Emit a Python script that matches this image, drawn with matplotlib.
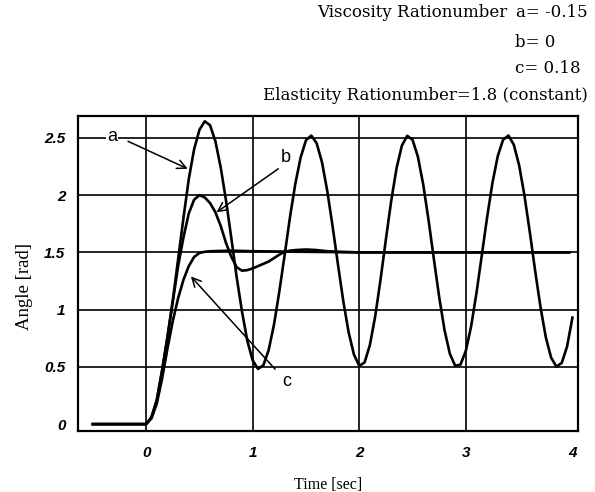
import numpy as np
import matplotlib.pyplot as plt

plt.rcParams['font.family'] = 'Liberation Serif'

# ---- data
# curve a (viscosity ratio -0.15)
t_a = [-0.5, 0.0, 0.05, 0.10, 0.15, 0.20, 0.25, 0.30, 0.35, 0.40, 0.45,
       0.50, 0.55, 0.60, 0.65, 0.70, 0.75, 0.80, 0.85, 0.90, 0.95,
       1.00, 1.05, 1.10, 1.15, 1.20, 1.25, 1.30, 1.35, 1.40, 1.45,
       1.50, 1.55, 1.60, 1.65, 1.70, 1.75, 1.80, 1.85, 1.90, 1.95,
       2.00, 2.05, 2.10, 2.15, 2.20, 2.25, 2.30, 2.35, 2.40, 2.45,
       2.50, 2.55, 2.60, 2.65, 2.70, 2.75, 2.80, 2.85, 2.90, 2.95,
       3.00, 3.05, 3.10, 3.15, 3.20, 3.25, 3.30, 3.35, 3.40, 3.45,
       3.50, 3.55, 3.60, 3.65, 3.70, 3.75, 3.80, 3.85, 3.90, 3.95, 4.00]
y_a = [0.0, 0.0, 0.06, 0.21, 0.47, 0.76, 1.08, 1.44, 1.80, 2.14, 2.40,
       2.57, 2.645, 2.61, 2.47, 2.24, 1.95, 1.62, 1.28, 0.98, 0.725,
       0.556, 0.482, 0.514, 0.648, 0.871, 1.16, 1.48, 1.81, 2.10, 2.33,
       2.48, 2.52, 2.453, 2.287, 2.034, 1.725, 1.393, 1.074, 0.802, 0.607,
       0.509, 0.539, 0.693, 0.945, 1.266, 1.616, 1.952, 2.236, 2.433, 2.518,
       2.483, 2.335, 2.093, 1.782, 1.441, 1.108, 0.821, 0.614, 0.509, 0.52,
       0.641, 0.857, 1.147, 1.477, 1.809, 2.11, 2.343, 2.485, 2.52, 2.44,
       2.26, 1.996, 1.678, 1.341, 1.025, 0.76, 0.581, 0.502, 0.535, 0.678, 0.93]

# curve b (viscosity ratio 0)
t_b = [-0.5, 0.0, 0.05, 0.10, 0.15, 0.20, 0.25, 0.30, 0.35, 0.40, 0.45,
       0.50, 0.55, 0.60, 0.65, 0.70, 0.75, 0.80, 0.85, 0.90, 0.95,
       1.00, 1.05, 1.10, 1.15, 1.20, 1.25, 1.30, 1.35, 1.40, 1.50,
       1.60, 1.70, 1.80, 2.00, 3.00, 3.97]
y_b = [0.0, 0.0, 0.06, 0.21, 0.47, 0.76, 1.07, 1.38, 1.63, 1.84, 1.96,
       2.0, 1.98, 1.93, 1.85, 1.73, 1.58, 1.46, 1.37, 1.34, 1.345,
       1.36, 1.38, 1.40, 1.42, 1.45, 1.48, 1.505, 1.515, 1.52, 1.525,
       1.52, 1.51, 1.505, 1.50, 1.50, 1.50]

# curve c (viscosity ratio 0.18)
t_c = [-0.5, 0.0, 0.05, 0.10, 0.15, 0.20, 0.25, 0.30, 0.35, 0.40, 0.45,
       0.50, 0.55, 0.60, 0.80, 1.00, 2.00, 3.00, 3.97]
y_c = [0.0, 0.0, 0.05, 0.18, 0.40, 0.66, 0.90, 1.10, 1.26, 1.38, 1.46,
       1.495, 1.505, 1.51, 1.515, 1.51, 1.50, 1.50, 1.50]

x_ticks = [0, 1, 2, 3, 4]
y_ticks = [0, 0.5, 1, 1.5, 2, 2.5]
y_ticklabels = ['0', '0.5', '1', '1.5', '2', '2.5']

# label text position, arrow tail, arrow tip (data coords)
labels = ['a', 'b', 'c']
label_xy = [(-0.32, 2.51), (1.31, 2.33), (1.32, 0.37)]
tail_xy = [(-0.17, 2.47), (1.24, 2.23), (1.21, 0.48)]
tip_xy = [(0.39, 2.23), (0.66, 1.85), (0.42, 1.29)]

fig = plt.figure(figsize=(5.95, 4.92), dpi=100)
ax = fig.add_axes([0.131, 0.124, 0.84, 0.64])

# grid
for yv in y_ticks[1:]:
    ax.axhline(yv, color='k', lw=1.2, zorder=1)
for xv in x_ticks[:-1]:
    ax.axvline(xv, color='k', lw=1.2, zorder=1)

ax.plot(t_a, y_a, 'k', lw=1.9, zorder=3)
ax.plot(t_b, y_b, 'k', lw=1.9, zorder=3)
ax.plot(t_c, y_c, 'k', lw=1.9, zorder=3)

for lab, lxy, txy, pxy in zip(labels, label_xy, tail_xy, tip_xy):
    ax.text(lxy[0], lxy[1], lab, family='Liberation Sans', fontsize=13,
            ha='center', va='center', zorder=4,
            bbox=dict(facecolor='white', edgecolor='none', pad=0.5))
    ax.annotate('', xy=pxy, xytext=txy, zorder=4,
                arrowprops=dict(arrowstyle='->', color='k', lw=1.1,
                                mutation_scale=16, shrinkA=0, shrinkB=0))

ax.set_xlim(-0.64, 4.05)
ax.set_ylim(-0.06, 2.69)
ax.set_xticks(x_ticks)
ax.set_xticklabels([str(v) for v in x_ticks], family='Liberation Sans',
                   style='italic', fontweight='bold', fontsize=11)
ax.set_yticks(y_ticks)
ax.set_yticklabels(y_ticklabels, family='Liberation Sans', style='italic',
                   fontweight='bold', fontsize=11)
ax.tick_params(axis='x', length=0, pad=11)
ax.tick_params(axis='y', length=0, pad=9)
for sp in ax.spines.values():
    sp.set_linewidth(1.6)

ax.set_xlabel('Time [sec]', fontsize=11.5, labelpad=12)
ax.set_ylabel('Angle [rad]', fontsize=13.5)
ax.yaxis.set_label_coords(-0.09, 0.46)

# header notes
hdr = dict(family='DejaVu Serif', fontsize=12)
fig.text(0.988, 0.974, 'a= -0.15', ha='right', va='center', **hdr)
fig.text(0.852, 0.974, 'Viscosity Rationumber', ha='right', va='center', **hdr)
fig.text(0.866, 0.913, 'b= 0', ha='left', va='center', **hdr)
fig.text(0.866, 0.860, 'c= 0.18', ha='left', va='center', **hdr)
fig.text(0.988, 0.805, 'Elasticity Rationumber=1.8 (constant)',
         ha='right', va='center', **hdr)

fig.savefig('out.png', dpi=100)
